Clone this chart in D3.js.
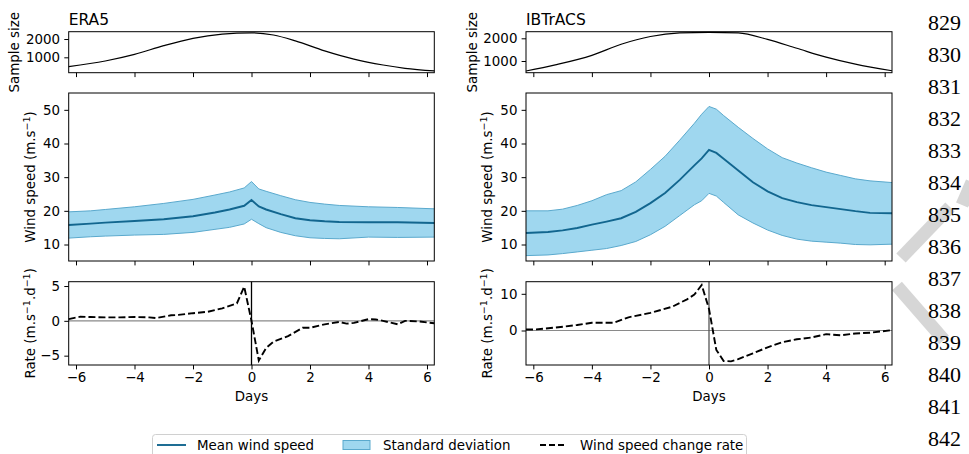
<html>

<head>
  <meta charset="utf-8">
  <script src="https://d3js.org/d3.v7.min.js"></script>
  <style>
    body {
      margin: 0;
      background: #fff;
    }

    svg text {
      font-family: "DejaVu Sans", sans-serif;
      fill: #000;
    }

    .lineno {
      font-family: "Liberation Serif", serif;
    }
  </style>
</head>

<body>
  <svg id="chart" width="969" height="454"></svg>

  <script>
    // ---- data ----
    const dayTicks = [-6, -4, -2, 0, 2, 4, 6];
    const sizeTicks = [1000, 2000];
    const speedTicks = [10, 20, 30, 40, 50];
    const era5RateTicks = [-5, 0, 5];
    const ibtracsRateTicks = [0, 10];

    // sample size
    const era5SizeDays = [-6.25, -5, -4, -3, -2, -1, 0, 0.75, 1.5, 2.5, 3.5, 4.5, 5.25, 6.25];
    const era5Size = [490, 800, 1160, 1640, 2040, 2270, 2340, 2220, 1900, 1350, 900, 580, 400, 255];
    const ibtracsSizeDays = [-6.25, -5.25, -4, -3, -2, -1, 0, 1, 2, 3, 4, 5, 6.25];
    const ibtracsSize = [560, 830, 1250, 1740, 2080, 2235, 2260, 2235, 1950, 1560, 1170, 860, 570];

    // wind speed mean +/- std
    const era5Days = [-6.25, -5.5, -5, -4, -3, -2, -1.25, -0.75, -0.25, 0, 0.25, 0.5, 1, 1.5, 2, 2.5, 3, 4, 5, 6.25];
    const era5Mean = [15.8, 16.2, 16.5, 17.0, 17.5, 18.4, 19.5, 20.4, 21.5, 23.2, 21.3, 20.4, 19.0, 17.8, 17.2, 16.9, 16.7, 16.6, 16.6, 16.4];
    const era5Upper = [19.7, 20.0, 20.4, 21.2, 22.2, 23.4, 24.7, 25.6, 26.8, 28.7, 26.5, 25.8, 24.5, 23.3, 22.5, 22.0, 21.6, 21.2, 21.0, 20.6];
    const era5Lower = [11.9, 12.3, 12.5, 12.8, 13.0, 13.6, 14.5, 15.1, 16.1, 17.5, 16.2, 15.0, 13.6, 12.6, 12.0, 11.8, 11.7, 12.2, 12.1, 12.2];

    const ibtracsDays = [-6.25, -5.5, -5, -4.5, -4, -3.5, -3, -2.5, -2, -1.5, -1, -0.5, -0.25, 0, 0.25, 0.5, 1, 1.5, 2, 2.5, 3, 3.5, 4, 4.5, 5, 5.5, 6.25];
    const ibtracsMean = [13.4, 13.7, 14.2, 14.9, 15.9, 16.8, 17.8, 19.7, 22.3, 25.3, 29.2, 33.5, 35.6, 38.1, 37.2, 35.5, 32.0, 28.5, 25.8, 23.8, 22.6, 21.7, 21.1, 20.5, 19.9, 19.4, 19.3];
    const ibtracsUpper = [20.0, 20.0, 20.5, 21.6, 23.0, 24.8, 26.0, 28.6, 32.3, 36.2, 41.0, 46.0, 48.7, 51.0, 50.2, 48.3, 44.8, 41.5, 38.4, 35.8, 34.2, 32.8, 31.5, 30.5, 29.5, 28.9, 28.4];
    const ibtracsLower = [6.7, 6.9, 7.3, 7.8, 8.3, 8.8, 9.7, 10.9, 12.9, 15.4, 18.6, 21.8, 23.0, 25.2, 24.4, 22.5, 18.8, 16.4, 14.3, 12.7, 11.6, 11.0, 10.7, 10.4, 10.0, 9.9, 10.1];

    // change rate
    const era5RateDays = [-6.25, -5.85, -5.5, -5, -4.5, -4, -3.5, -3.25, -2.75, -2.5, -2, -1.5, -1, -0.5, -0.25, 0, 0.25, 0.5, 0.75, 1.25, 1.75, 2, 2.5, 3, 3.25, 3.5, 4, 4.25, 4.5, 5, 5.25, 5.75, 6.25];
    const era5Rate = [0.25, 0.6, 0.55, 0.5, 0.5, 0.55, 0.5, 0.4, 0.8, 0.85, 1.1, 1.3, 1.8, 2.5, 4.9, 0.0, -5.7, -3.9, -3.0, -2.2, -1.0, -1.0, -0.5, -0.15, -0.4, -0.3, 0.25, 0.2, 0.0, -0.5, 0.0, -0.1, -0.35];
    const ibtracsRateDays = [-6.25, -5.9, -5.25, -4.5, -4, -3.25, -2.75, -2.5, -2, -1.25, -0.75, -0.5, -0.25, 0, 0.25, 0.5, 0.75, 1, 1.5, 2, 2.5, 3, 3.5, 4, 4.5, 5, 5.5, 6.25];
    const ibtracsRate = [0.27, 0.3, 0.8, 1.5, 2.1, 2.1, 3.6, 4.0, 4.8, 6.5, 8.5, 9.8, 12.4, 5.9, -5.3, -8.3, -8.4, -7.8, -6.2, -4.6, -3.2, -2.4, -1.9, -1.0, -1.3, -0.8, -0.6, 0.1];

    const lineNumbers = [829, 830, 831, 832, 833, 834, 835, 836, 837, 838, 839, 840, 841, 842];

    // ---- layout ----
    const svg = d3.select("svg#chart");
    const fontSize = 13.4;
    const rows = { size: [31.7, 72.7], speed: [93, 261], rate: [281.7, 365] };
    const bandFill = "#9fd7ef";
    const bandEdge = "#5aa9cd";
    const meanColor = "#12668f";

    const zip = (a, b) => a.map((d, i) => [d, b[i]]);

    // watermark strokes behind the line numbers
    svg.append("g").attr("id", "watermark")
      .selectAll("path")
      .data(["M972,182 L962,205", "M950,207 L901,258", "M897,286 L944,340"])
      .join("path")
      .attr("d", d => d)
      .attr("stroke", "#d6d6d6")
      .attr("stroke-width", 13)
      .attr("fill", "none");

    svg.append("g").selectAll("text.lineno")
      .data(lineNumbers)
      .join("text")
      .attr("class", "lineno")
      .attr("x", 928)
      .attr("y", (d, i) => 30 + i * 32)
      .style("font-size", "22px")
      .text(d => d);

    function styleAxis(g) {
      g.select(".domain").remove();
      g.selectAll(".tick line").attr("stroke", "#000").attr("stroke-width", 1);
      g.selectAll(".tick text")
        .style("font-family", "DejaVu Sans")
        .style("font-size", fontSize + "px")
        .attr("fill", "#000");
    }

    function addYLabel(x, y, parts) {
      let t = svg.append("text")
        .attr("transform", `translate(${x},${y}) rotate(-90)`)
        .attr("text-anchor", "middle")
        .style("font-size", fontSize + "px");
      parts.forEach(p => {
        let sup = p[1];
        t.append("tspan")
          .attr("dy", sup ? -5 : (p[2] || 0))
          .style("font-size", sup ? "9.5px" : null)
          .text(p[0]);
      });
    }

    function drawColumn(c) {
      let x = d3.scaleLinear().domain([-6.25, 6.25]).range(c.xRange);
      let [x0, x1] = c.xRange;

      // title
      svg.append("text")
        .attr("x", x0)
        .attr("y", 25)
        .style("font-size", "15.5px")
        .text(c.title);

      // sample size
      let ySize = d3.scaleLinear().domain(c.sizeDomain).range([rows.size[1], rows.size[0]]);
      let gSize = svg.append("g");
      gSize.append("path")
        .datum(zip(c.sizeDays, c.size))
        .attr("d", d3.line().curve(d3.curveMonotoneX).x(d => x(d[0])).y(d => ySize(d[1])))
        .attr("fill", "none")
        .attr("stroke", "#000")
        .attr("stroke-width", 1.2);

      // wind speed
      let ySpeed = d3.scaleLinear().domain([5.1, 55]).range([rows.speed[1], rows.speed[0]]);
      let gSpeed = svg.append("g");
      let band = c.days.map((d, i) => [d, c.lower[i], c.upper[i]]);
      gSpeed.append("path")
        .datum(band)
        .attr("d", d3.area().x(d => x(d[0])).y0(d => ySpeed(d[1])).y1(d => ySpeed(d[2])))
        .attr("fill", bandFill);
      [c.lower, c.upper].forEach(arr => {
        gSpeed.append("path")
          .datum(zip(c.days, arr))
          .attr("d", d3.line().x(d => x(d[0])).y(d => ySpeed(d[1])))
          .attr("fill", "none")
          .attr("stroke", bandEdge)
          .attr("stroke-width", 1);
      });
      gSpeed.append("path")
        .datum(zip(c.days, c.mean))
        .attr("d", d3.line().x(d => x(d[0])).y(d => ySpeed(d[1])))
        .attr("fill", "none")
        .attr("stroke", meanColor)
        .attr("stroke-width", 1.9);

      // change rate
      let yRate = d3.scaleLinear().domain(c.rateDomain).range([rows.rate[1], rows.rate[0]]);
      let gRate = svg.append("g");
      gRate.append("line")
        .attr("x1", x0).attr("x2", x1)
        .attr("y1", yRate(0)).attr("y2", yRate(0))
        .attr("stroke", "#8a8a8a")
        .attr("stroke-width", 1.2);
      gRate.append("line")
        .attr("x1", x(0)).attr("x2", x(0))
        .attr("y1", rows.rate[0]).attr("y2", rows.rate[1])
        .attr("stroke", c.vColor)
        .attr("stroke-width", 1.3);
      gRate.append("path")
        .datum(zip(c.rateDays, c.rate))
        .attr("d", d3.line().x(d => x(d[0])).y(d => yRate(d[1])))
        .attr("fill", "none")
        .attr("stroke", "#000")
        .attr("stroke-width", 1.9)
        .attr("stroke-dasharray", "7,3");

      // frames and axes
      [[rows.size, ySize, sizeTicks], [rows.speed, ySpeed, speedTicks], [rows.rate, yRate, c.rateTicks]]
        .forEach(([r, ys, ticks], i) => {
          svg.append("rect")
            .attr("x", x0).attr("y", r[0])
            .attr("width", x1 - x0).attr("height", r[1] - r[0])
            .attr("fill", "none")
            .attr("stroke", "#000")
            .attr("stroke-width", 1);

          svg.append("g")
            .attr("transform", `translate(${x0},0)`)
            .call(d3.axisLeft(ys).tickValues(ticks).tickSize(4.4).tickPadding(4.2).tickFormat(d3.format("d")))
            .call(styleAxis);

          let xa = d3.axisBottom(x).tickValues(dayTicks).tickSize(4.4).tickPadding(3.5);
          if (i < 2) xa.tickFormat("");
          else xa.tickFormat(d3.format("d"));
          svg.append("g")
            .attr("transform", `translate(0,${r[1]})`)
            .call(xa)
            .call(styleAxis);
        });

      // axis labels
      svg.append("text")
        .attr("x", (x0 + x1) / 2)
        .attr("y", 400.5)
        .attr("text-anchor", "middle")
        .style("font-size", fontSize + "px")
        .text("Days");

      addYLabel(x0 - c.sizeLabelOff, (rows.size[0] + rows.size[1]) / 2, [["Sample size"]]);
      addYLabel(x0 - 34, (rows.speed[0] + rows.speed[1]) / 2, [["Wind speed (m.s"], ["−1", true], [")", false, 5]]);
      addYLabel(x0 - 34, (rows.rate[0] + rows.rate[1]) / 2, [["Rate (m.s"], ["−1", true], [".d", false, 5], ["−1", true], [")", false, 5]]);
    }

    drawColumn({
      title: "ERA5",
      xRange: [68.7, 434.3],
      sizeDomain: [160, 2400],
      sizeDays: era5SizeDays, size: era5Size,
      days: era5Days, mean: era5Mean, upper: era5Upper, lower: era5Lower,
      rateDays: era5RateDays, rate: era5Rate,
      rateDomain: [-6.34, 5.62], rateTicks: era5RateTicks,
      vColor: "#000",
      sizeLabelOff: 50
    });

    drawColumn({
      title: "IBTrACS",
      xRange: [526, 892],
      sizeDomain: [485, 2291],
      sizeDays: ibtracsSizeDays, size: ibtracsSize,
      days: ibtracsDays, mean: ibtracsMean, upper: ibtracsUpper, lower: ibtracsLower,
      rateDays: ibtracsRateDays, rate: ibtracsRate,
      rateDomain: [-9.4, 13.3], rateTicks: ibtracsRateTicks,
      vColor: "#555",
      sizeLabelOff: 49.5
    });

    // legend
    const legendItems = ["Mean wind speed", "Standard deviation", "Wind speed change rate"];
    const legendX = [157, 343, 540];
    const legend = svg.append("g").attr("id", "legend");
    legend.append("rect")
      .attr("x", 152.5).attr("y", 434.5)
      .attr("width", 594).attr("height", 30)
      .attr("rx", 3)
      .attr("fill", "#fff")
      .attr("stroke", "#d0d0d0");
    legend.append("line")
      .attr("x1", legendX[0]).attr("x2", legendX[0] + 29)
      .attr("y1", 445).attr("y2", 445)
      .attr("stroke", meanColor).attr("stroke-width", 1.9);
    legend.append("rect")
      .attr("x", legendX[1]).attr("y", 440.5)
      .attr("width", 27).attr("height", 9)
      .attr("fill", bandFill).attr("stroke", bandEdge);
    legend.append("line")
      .attr("x1", legendX[2]).attr("x2", legendX[2] + 27)
      .attr("y1", 445).attr("y2", 445)
      .attr("stroke", "#000").attr("stroke-width", 1.9)
      .attr("stroke-dasharray", "6,3");
    legend.selectAll("text")
      .data(legendItems)
      .join("text")
      .attr("x", (d, i) => legendX[i] + 40)
      .attr("y", 449.5)
      .style("font-size", fontSize + "px")
      .text(d => d);
  </script>
</body>

</html>
